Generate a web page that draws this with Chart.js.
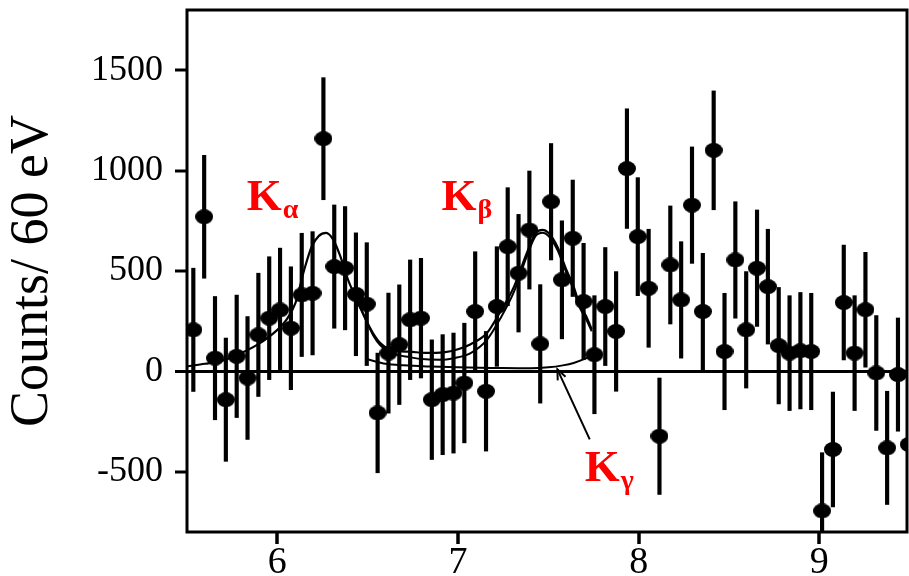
<!DOCTYPE html>
<html><head><meta charset="utf-8">
<script src="https://cdn.jsdelivr.net/npm/chart.js@4.4.1/dist/chart.umd.min.js"></script>
<style>html,body{margin:0;padding:0;background:#fff;} canvas{display:block;}</style>
</head><body>
<canvas id="c" width="909" height="576"></canvas>
<script>
// ---- data ----
const energies = [5.535,5.595,5.655,5.715,5.775,5.835,5.895,5.955,6.015,6.075,6.135,6.195,6.255,6.315,6.375,6.435,6.495,6.555,6.615,6.675,6.735,6.795,6.855,6.915,6.975,7.035,7.095,7.155,7.215,7.275,7.335,7.395,7.455,7.515,7.575,7.635,7.695,7.755,7.815,7.875,7.935,7.995,8.055,8.115,8.175,8.235,8.295,8.355,8.415,8.475,8.535,8.595,8.655,8.715,8.775,8.835,8.895,8.955,9.015,9.075,9.135,9.195,9.255,9.315,9.375,9.435,9.495];
const counts = [207,770,66,-141,75,-33,182,265,306,215,381,389,1159,522,514,384,335,-207,91,133,257,265,-141,-116,-108,-58,298,-99,323,621,489,704,137,845,456,663,348,83,323,199,1010,671,414,-323,530,356,828,298,1101,99,555,207,514,422,128,91,103,99,-695,-389,343,91,307,-8,-381,-16,-364];
const errors = [307,306,307,307,305,306,307,306,308,306,307,307,304,307,307,306,306,298,299,298,298,298,298,299,299,298,298,298,298,294,293,294,295,290,294,290,290,294,294,298,298,294,294,290,294,290,290,290,296,290,290,290,290,286,290,286,290,290,290,286,286,286,286,286,282,282,282];

const fitUpperE = [5.50,5.60,5.70,5.78,5.89,6.00,6.05,6.10,6.15,6.19,6.23,6.27,6.31,6.35,6.39,6.44,6.49,6.53,6.57,6.64,6.73,6.82,6.92,7.00,7.07,7.16,7.23,7.31,7.38,7.43,7.47,7.50,7.55,7.60,7.64,7.67,7.71,7.74];
const fitUpperC = [25,38,55,83,133,207,257,340,510,621,675,690,655,570,460,356,257,190,141,104,98,92,95,110,135,191,291,422,588,690,705,690,621,505,422,340,273,210];
const fitLowerE = [6.44,6.49,6.53,6.57,6.64,6.73,6.82,6.92,7.00,7.07,7.16,7.23,7.31,7.38,7.43,7.47,7.50,7.55,7.60,7.64,7.67,7.71,7.74];
const fitLowerC = [356,257,180,130,90,71,60,58,70,91,157,257,397,571,675,690,675,605,490,405,325,258,200];
const componentE = [6.50,6.60,6.70,6.85,7.00,7.20,7.40,7.50,7.58,7.64,7.70,7.74];
const componentC = [60,38,30,24,20,17,15,20,30,42,62,80];

const xTickValues = [6,7,8,9];
const yTickValues = [-500,0,500,1000,1500];
const yTitle = 'Counts/ 60 eV';

// annotations (label text and their anchor in data units)
const peakLabels = ['K','K','K'];
const peakSubs = ['α','β','γ'];
const peakLabelE = [5.831, 6.909, 7.701];
const peakLabelC = [803, 803, -546];
const arrowFrom = [7.729, -339];
const arrowTo = [7.55, 10];

// ---- styling helpers ----
const dot = document.createElement('canvas');
dot.width = 18; dot.height = 15;
(function(){ const g = dot.getContext('2d'); g.fillStyle = '#000'; g.beginPath(); g.ellipse(9, 7.5, 9, 7.5, 0, 0, Math.PI*2); g.fill(); })();

const toXY = (xs, ys) => xs.map((v, i) => ({x: v, y: ys[i]}));
const noPad = s => { s.paddingTop = 0; s.paddingBottom = 0; s.paddingLeft = 0; s.paddingRight = 0; };

const decorations = {
  id: 'decorations',
  afterDraw(chart) {
    const {ctx, chartArea: a, scales: {x, y}} = chart;
    ctx.save();
    ctx.strokeStyle = '#000';
    ctx.lineWidth = 3;
    ctx.strokeRect(a.left, a.top, a.right - a.left, a.bottom - a.top);
    // x tick marks
    ctx.lineWidth = 3.5;
    xTickValues.forEach(v => {
      const px = Math.round(x.getPixelForValue(v));
      ctx.beginPath(); ctx.moveTo(px, a.bottom); ctx.lineTo(px, a.bottom + 12); ctx.stroke();
    });
    // arrow
    const x0 = x.getPixelForValue(arrowFrom[0]), y0 = y.getPixelForValue(arrowFrom[1]);
    const x1 = x.getPixelForValue(arrowTo[0]), y1 = y.getPixelForValue(arrowTo[1]);
    ctx.lineWidth = 2;
    ctx.beginPath(); ctx.moveTo(x0, y0); ctx.lineTo(x1, y1); ctx.stroke();
    const ang = Math.atan2(y1 - y0, x1 - x0), hl = 11;
    ctx.beginPath();
    ctx.moveTo(x1 - hl*Math.cos(ang - 0.4), y1 - hl*Math.sin(ang - 0.4));
    ctx.lineTo(x1, y1);
    ctx.lineTo(x1 - hl*Math.cos(ang + 0.4), y1 - hl*Math.sin(ang + 0.4));
    ctx.stroke();
    // peak labels
    ctx.fillStyle = '#ff0000';
    ctx.textBaseline = 'alphabetic';
    ctx.textAlign = 'left';
    peakLabels.forEach((t, i) => {
      const px = x.getPixelForValue(peakLabelE[i]), py = y.getPixelForValue(peakLabelC[i]);
      ctx.font = 'bold 45px "Liberation Serif"';
      ctx.fillText(t, px, py);
      const w = ctx.measureText(t).width;
      ctx.font = 'bold 28px "Liberation Serif"';
      ctx.fillText(peakSubs[i], px + w + 1, py + 8);
    });
    ctx.restore();
  }
};

new Chart(document.getElementById('c'), {
  type: 'scatter',
  data: {
    datasets: [
      { type: 'scatter', label: 'data', data: toXY(energies, counts),
        pointStyle: dot, pointRadius: 8, pointHoverRadius: 8, clip: 0, order: 0 },
      { type: 'bar', label: 'errors', data: energies.map((e, i) => ({x: e, y: [counts[i] - errors[i], counts[i] + errors[i]]})),
        backgroundColor: '#000', borderWidth: 0, barThickness: 3.5, clip: 0, order: 1 },
      { type: 'line', label: 'fit 1', data: toXY(fitUpperE, fitUpperC), borderColor: '#000', borderWidth: 2.2,
        pointRadius: 0, cubicInterpolationMode: 'monotone', fill: false, order: 2 },
      { type: 'line', label: 'fit 2', data: toXY(fitLowerE, fitLowerC), borderColor: '#000', borderWidth: 2,
        pointRadius: 0, cubicInterpolationMode: 'monotone', fill: false, order: 3 },
      { type: 'line', label: 'Kγ', data: toXY(componentE, componentC), borderColor: '#000', borderWidth: 2,
        pointRadius: 0, cubicInterpolationMode: 'monotone', fill: false, order: 4 }
    ]
  },
  options: {
    responsive: false,
    animation: false,
    layout: { autoPadding: false, padding: { top: 10, right: 2, left: 0, bottom: 0 } },
    plugins: { legend: { display: false }, tooltip: { enabled: false } },
    scales: {
      x: {
        type: 'linear', min: 5.5, max: 9.485, offset: false, bounds: 'data',
        afterFit: s => { s.height = 44; noPad(s); },
        afterBuildTicks: s => { s.ticks = xTickValues.map(v => ({value: v})); },
        border: { display: false },
        grid: { display: true, offset: false, drawOnChartArea: false, drawTicks: true, tickLength: 11, tickWidth: 0, tickColor: 'rgba(0,0,0,0)', color: 'rgba(0,0,0,0)', lineWidth: 0 },
        ticks: { color: '#000', padding: 1, font: { family: '"Liberation Serif"', size: 38, lineHeight: 1 }, maxRotation: 0,
                 callback: v => String(v) }
      },
      y: {
        type: 'linear', min: -800, max: 1800, bounds: 'data',
        afterFit: s => { s.width = 187; noPad(s); },
        afterBuildTicks: s => { s.ticks = yTickValues.map(v => ({value: v})); },
        border: { display: false },
        grid: {
          offset: false, drawOnChartArea: true, drawTicks: true, tickLength: 12, tickWidth: 3, tickColor: '#000',
          color: c => (c.tick && c.tick.value === 0) ? '#000' : 'rgba(0,0,0,0)',
          lineWidth: c => (c.tick && c.tick.value === 0) ? 3 : 0
        },
        ticks: { color: '#000', padding: 12, font: { family: '"Liberation Serif"', size: 36 }, callback: v => String(v) },
        title: { display: true, text: yTitle, color: '#000', padding: 0,
                 font: { family: '"Liberation Serif"', size: 54, lineHeight: 1.2 } }
      }
    }
  },
  plugins: [decorations]
});
</script>
</body></html>
